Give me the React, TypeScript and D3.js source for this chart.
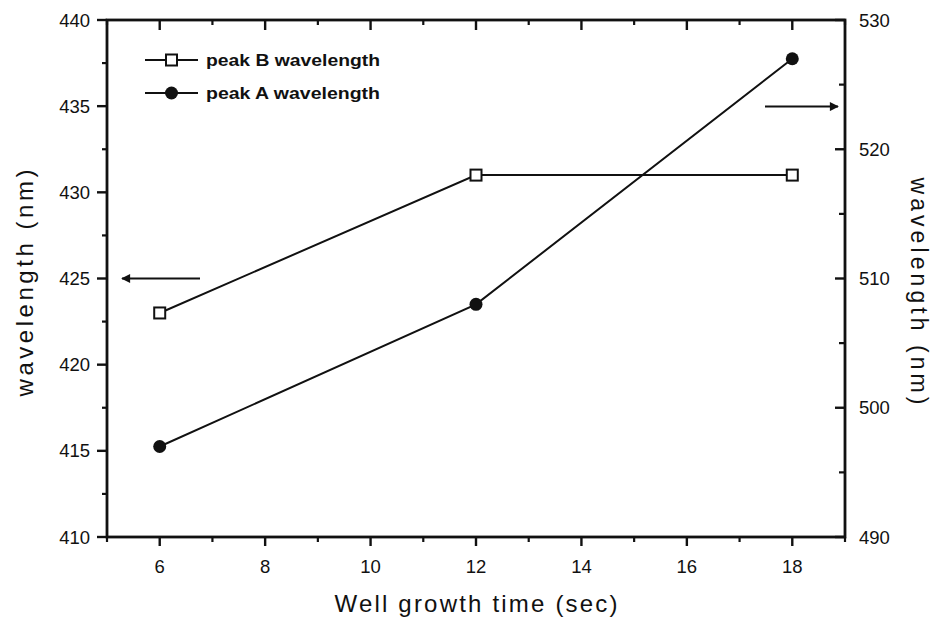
import React from "react";
import * as d3 from "d3";

const times = [6, 12, 18];
const peakB = [423, 431, 431]; // left axis
const peakA = [497, 508, 527]; // right axis
const xTicks = [6, 8, 10, 12, 14, 16, 18];
const xMinor = [5, 7, 9, 11, 13, 15, 17, 19];
const yLeftTicks = [410, 415, 420, 425, 430, 435, 440];
const yLeftMinor = [412.5, 417.5, 422.5, 427.5, 432.5, 437.5];
const yRightTicks = [490, 500, 510, 520, 530];
const yRightMinor = [495, 505, 515, 525];

const W = 935, H = 617;
const L = 107, R = 845, T = 20, B = 537;

export default function App() {
  const x = d3.scaleLinear().domain([5, 19]).range([L, R]);
  const yL = d3.scaleLinear().domain([410, 440]).range([B, T]);
  const yR = d3.scaleLinear().domain([490, 530]).range([B, T]);
  const line = d3.line<[number, number]>().x(d => d[0]).y(d => d[1]);
  const bPts: [number, number][] = times.map((t, i) => [x(t), yL(peakB[i])]);
  const aPts: [number, number][] = times.map((t, i) => [x(t), yR(peakA[i])]);
  const font = "Arial, 'Liberation Sans', sans-serif";
  const k = "#111";
  return (
    <svg width={W} height={H} style={{ position: "absolute", left: 0, top: 0, background: "#fff" }} fontFamily={font}>
      <defs>
        <marker id="ah" viewBox="0 0 10 10" refX="9" refY="5" markerWidth="15" markerHeight="9" markerUnits="userSpaceOnUse" orient="auto">
          <path d="M0,0 L10,5 L0,10 z" fill={k} />
        </marker>
      </defs>
      {/* frame */}
      <rect x={L} y={T} width={R - L} height={B - T} fill="none" stroke={k} strokeWidth={2.8} />
      {/* bottom ticks (outward) + top ticks (inward) */}
      {xTicks.map(v => (
        <g key={"xt" + v}>
          <line x1={x(v)} x2={x(v)} y1={B} y2={B + 9} stroke={k} strokeWidth={2.4} />
          <line x1={x(v)} x2={x(v)} y1={T} y2={T + 10} stroke={k} strokeWidth={2.4} />
          <text x={x(v)} y={573} textAnchor="middle" fontSize={18.5} fill={k}>{v}</text>
        </g>
      ))}
      {xMinor.map(v => (
        <g key={"xm" + v}>
          <line x1={x(v)} x2={x(v)} y1={B} y2={B + 5} stroke={k} strokeWidth={2.2} />
          <line x1={x(v)} x2={x(v)} y1={T} y2={T + 5} stroke={k} strokeWidth={2.2} />
        </g>
      ))}
      {/* left axis */}
      {yLeftTicks.map(v => (
        <g key={"yl" + v}>
          <line x1={L - 10} x2={L} y1={yL(v)} y2={yL(v)} stroke={k} strokeWidth={2.4} />
          <text x={L - 17} y={yL(v) + 6.5} textAnchor="end" fontSize={18.5} fill={k}>{v}</text>
        </g>
      ))}
      {yLeftMinor.map(v => (
        <line key={"ylm" + v} x1={L - 5} x2={L} y1={yL(v)} y2={yL(v)} stroke={k} strokeWidth={2.2} />
      ))}
      {/* right axis */}
      {yRightTicks.map(v => (
        <g key={"yr" + v}>
          <line x1={R - 10} x2={R} y1={yR(v)} y2={yR(v)} stroke={k} strokeWidth={2.4} />
          <text x={R + 14} y={yR(v) + 6.5} textAnchor="start" fontSize={18.5} fill={k}>{v}</text>
        </g>
      ))}
      {yRightMinor.map(v => (
        <line key={"yrm" + v} x1={R - 6} x2={R} y1={yR(v)} y2={yR(v)} stroke={k} strokeWidth={2.2} />
      ))}
      {/* axis titles */}
      <text x={(L + R) / 2} y={612} textAnchor="middle" fontSize={24} fill={k} textLength={283} lengthAdjust="spacing">Well growth time (sec)</text>
      <text transform={`translate(33,283) rotate(-90)`} textAnchor="middle" fontSize={24} fill={k} textLength={227} lengthAdjust="spacing">wavelength (nm)</text>
      <text transform={`translate(911,291) rotate(90)`} textAnchor="middle" fontSize={23} fill={k} textLength={227} lengthAdjust="spacing">wavelength (nm)</text>
      {/* series lines */}
      <path d={line(bPts) || ""} fill="none" stroke={k} strokeWidth={2} />
      <path d={line(aPts) || ""} fill="none" stroke={k} strokeWidth={2} />
      {bPts.map((p, i) => (
        <rect key={"b" + i} x={p[0] - 5.5} y={p[1] - 5.5} width={11} height={11} fill="#fff" stroke={k} strokeWidth={2} />
      ))}
      {aPts.map((p, i) => (
        <circle key={"a" + i} cx={p[0]} cy={p[1]} r={6.5} fill={k} />
      ))}
      {/* arrows */}
      <line x1={200} y1={yL(425)} x2={122} y2={yL(425)} stroke={k} strokeWidth={2} markerEnd="url(#ah)" />
      <line x1={765} y1={yR(523.3)} x2={838} y2={yR(523.3)} stroke={k} strokeWidth={2} markerEnd="url(#ah)" />
      {/* legend */}
      <g>
        <line x1={145} x2={198} y1={60} y2={60} stroke={k} strokeWidth={2} />
        <rect x={166} y={54.5} width={11} height={11} fill="#fff" stroke={k} strokeWidth={2} />
        <text x={206} y={66} fontSize={17} fontWeight="bold" fill={k} textLength={174} lengthAdjust="spacingAndGlyphs">peak B wavelength</text>
        <line x1={145} x2={198} y1={93} y2={93} stroke={k} strokeWidth={2} />
        <circle cx={171.5} cy={93} r={6.5} fill={k} />
        <text x={206} y={99} fontSize={17} fontWeight="bold" fill={k} textLength={174} lengthAdjust="spacingAndGlyphs">peak A wavelength</text>
      </g>
    </svg>
  );
}
